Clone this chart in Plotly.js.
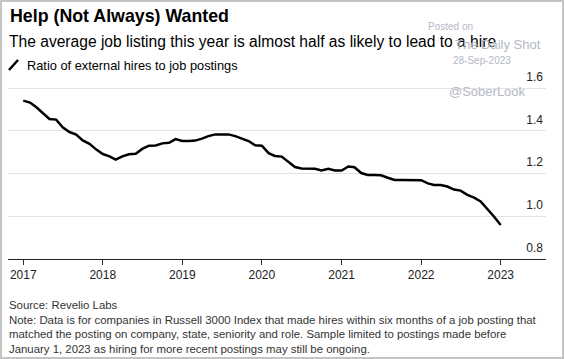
<!DOCTYPE html>
<html>
<head>
<meta charset="utf-8">
<script src="https://cdn.plot.ly/plotly-3.0.1.min.js"></script>
<style>
  html, body { margin: 0; padding: 0; background: #fff; }
  #wrap { position: relative; width: 564px; height: 359px; }
  #chart { width: 564px; height: 359px; }
  #frame { position: absolute; left: 0; top: 0; width: 564px; height: 359px; box-sizing: border-box; border: 2px solid #c4c4c4; pointer-events: none; }
</style>
</head>
<body>
<div id="wrap"><div id="chart"></div><div id="frame"></div></div>
<script>
// Monthly ratio of external hires to job postings (Jan 2017 - Jan 2023)
const months = [
  "2017-01","2017-02","2017-03","2017-04","2017-05","2017-06","2017-07","2017-08","2017-09","2017-10","2017-11","2017-12",
  "2018-01","2018-02","2018-03","2018-04","2018-05","2018-06","2018-07","2018-08","2018-09","2018-10","2018-11","2018-12",
  "2019-01","2019-02","2019-03","2019-04","2019-05","2019-06","2019-07","2019-08","2019-09","2019-10","2019-11","2019-12",
  "2020-01","2020-02","2020-03","2020-04","2020-05","2020-06","2020-07","2020-08","2020-09","2020-10","2020-11","2020-12",
  "2021-01","2021-02","2021-03","2021-04","2021-05","2021-06","2021-07","2021-08","2021-09","2021-10","2021-11","2021-12",
  "2022-01","2022-02","2022-03","2022-04","2022-05","2022-06","2022-07","2022-08","2022-09","2022-10","2022-11","2022-12",
  "2023-01"
];
const ratio = [
  1.541,1.532,1.511,1.482,1.455,1.452,1.416,1.394,1.382,1.355,1.339,1.313,
  1.291,1.280,1.265,1.280,1.290,1.292,1.315,1.330,1.331,1.341,1.344,1.361,
  1.352,1.352,1.354,1.363,1.375,1.383,1.383,1.383,1.375,1.365,1.352,1.332,
  1.330,1.295,1.282,1.279,1.256,1.230,1.223,1.222,1.222,1.214,1.222,1.214,
  1.214,1.233,1.229,1.202,1.193,1.193,1.192,1.180,1.170,1.170,1.170,1.170,
  1.169,1.154,1.146,1.146,1.139,1.125,1.120,1.100,1.087,1.069,1.036,0.999,
  0.959
];
const xTickVals = ["2017-01-01","2018-01-01","2019-01-01","2020-01-01","2021-01-01","2022-01-01","2023-01-01"];
const xTickText = ["2017","2018","2019","2020","2021","2022","2023"];
const yTickVals = [0.8, 1.0, 1.2, 1.4, 1.6];
const yTickText = ["0.8","1.0","1.2","1.4","1.6"];

const titleText = "Help (Not Always) Wanted";
const subtitleText = "The average job listing this year is almost half as likely to lead to a hire";
const seriesName = "Ratio of external hires to job postings";
const footerLines = [
  "Source: Revelio Labs",
  "Note: Data is for companies in Russell 3000 Index that made hires within six months of a job posting that",
  "matched the posting on company, state, seniority and role. Sample limited to postings made before",
  "January 1, 2023 as hiring for more recent postings may still be ongoing."
];

const W = 564, H = 359;
const M = {l: 8, r: 18, t: 66, b: 100};
const pw = W - M.l - M.r, ph = H - M.t - M.b;
const px = x => (x - M.l) / pw;
const py = y => (H - M.b - y) / ph;

const FONT = "Liberation Sans, Arial, sans-serif";
const wm = "#b3b7c6";

const annotations = [
  {text: "<b>" + titleText + "</b>", x: px(8), y: py(16), xanchor: "left", yanchor: "middle", font: {size: 17.8, color: "#000", family: FONT}},
  {text: subtitleText, x: px(7), y: py(41), xanchor: "left", yanchor: "middle", font: {size: 15.6, color: "#000", family: FONT}},
  {text: seriesName, x: px(25), y: py(65), xanchor: "left", yanchor: "middle", font: {size: 12.8, color: "#000", family: FONT}},
  {text: "Posted on", x: px(450), y: py(27), xanchor: "center", yanchor: "middle", font: {size: 10, color: wm, family: FONT}},
  {text: "The Daily Shot", x: px(498), y: py(44), xanchor: "center", yanchor: "middle", font: {size: 13, color: wm, family: FONT}},
  {text: "28-Sep-2023", x: px(482), y: py(61), xanchor: "center", yanchor: "middle", font: {size: 10, color: wm, family: FONT}},
  {text: "@SoberLook", x: px(487), y: py(91), xanchor: "center", yanchor: "middle", font: {size: 13, color: wm, family: FONT}}
];
footerLines.forEach((t, i) => {
  annotations.push({text: t, x: px(7), y: py(305 + i * 14.7), xanchor: "left", yanchor: "middle",
    font: {size: 11.4, color: "#333", family: FONT}});
});
annotations.forEach(a => { a.xref = "paper"; a.yref = "paper"; a.showarrow = false; });

const shapes = [
  {type: "line", xref: "paper", yref: "paper", x0: px(9), y0: py(70), x1: px(18), y1: py(60),
   line: {color: "#000", width: 2.5}}
];

const trace = {
  x: months, y: ratio, type: "scatter", mode: "lines",
  line: {color: "#000", width: 2.5}, hoverinfo: "skip", showlegend: false
};

const layout = {
  width: W, height: H,
  margin: M,
  paper_bgcolor: "#fff", plot_bgcolor: "#fff",
  font: {family: FONT, size: 12, color: "#222"},
  showlegend: false,
  xaxis: {
    type: "date",
    range: ["2016-10-23", "2023-07-28"],
    tickmode: "array", tickvals: xTickVals, ticktext: xTickText,
    ticks: "outside", ticklen: 5, tickcolor: "#333", tickwidth: 1,
    showline: true, linecolor: "#222", linewidth: 1,
    showgrid: false, zeroline: false,
    tickfont: {size: 12, color: "#222", family: FONT}
  },
  yaxis: {
    range: [0.8, 1.6 + (88 - M.t) / 213.75],
    side: "right",
    tickmode: "array", tickvals: yTickVals, ticktext: yTickText,
    ticklabelposition: "inside top",
    ticklabelshift: -3,
    ticks: "", showline: false, zeroline: false,
    showgrid: true, gridcolor: "#e3e3e3", gridwidth: 1,
    tickfont: {size: 12, color: "#222", family: FONT}
  },
  annotations: annotations,
  shapes: shapes
};

Plotly.newPlot("chart", [trace], layout, {displayModeBar: false, staticPlot: true});
</script>
</body>
</html>
